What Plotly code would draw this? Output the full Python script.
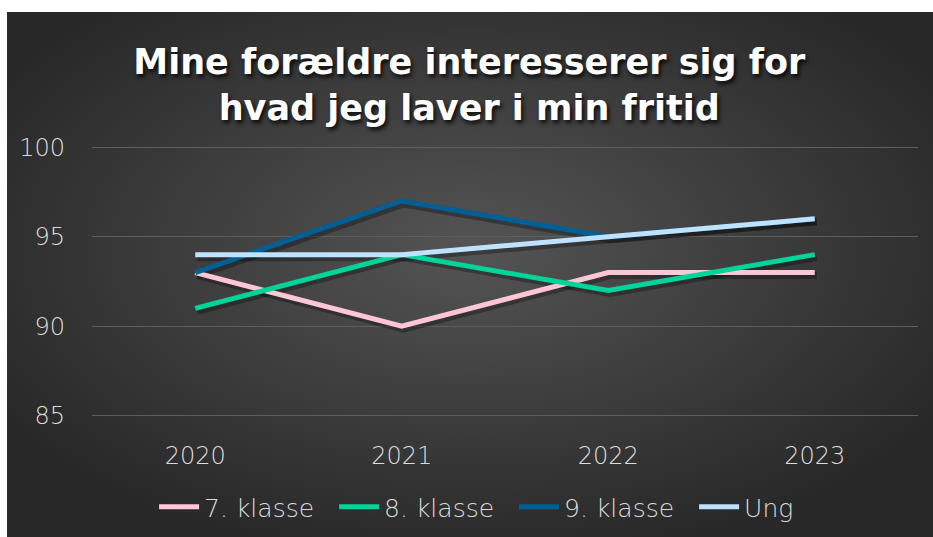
import base64
import plotly.graph_objects as go

years = ["2020", "2021", "2022", "2023"]
klasse7 = [93, 90, 93, 93]
klasse8 = [91, 94, 92, 94]
klasse9 = [93, 97, 95, 96]
ung = [94, 94, 95, 96]

series_names = ["7. klasse", "8. klasse", "9. klasse", "Ung"]
series_values = [klasse7, klasse8, klasse9, ung]
series_colors = ["#FFC7D6", "#00D49A", "#005F94", "#BEE2FF"]

y_ticks = [85, 90, 95, 100]
title_text = "Mine forældre interesserer sig for<br>hvad jeg laver i min fritid"

W, H = 933, 537
ML, MR, MT, MB = 92, 15, 146, 120
YR = [84.93, 100.07]
XR = [-0.5, 3.5]

svg = f'''<svg xmlns="http://www.w3.org/2000/svg" width="{W}" height="{H}" viewBox="0 0 {W} {H}" preserveAspectRatio="none">
<defs><radialGradient id="g" cx="0.5" cy="0.45" r="0.6" gradientUnits="objectBoundingBox">
<stop offset="0" stop-color="#545454"/><stop offset="1" stop-color="#282828"/></radialGradient></defs>
<rect x="0" y="0" width="{W}" height="{H}" fill="#ffffff"/>
<rect x="7" y="12" width="{W-7}" height="{H-12}" fill="url(#g)"/>
</svg>'''
uri = "data:image/svg+xml;base64," + base64.b64encode(svg.encode()).decode()

pw = W - ML - MR
ph = H - MT - MB
# shadow offset (pixels) converted to axis units
sdx = 2 * (XR[1] - XR[0]) / pw
sdy = 3 * (YR[1] - YR[0]) / ph

fig = go.Figure()
# soft shadows on the (hidden, slightly shifted) base axes
for name, vals in zip(series_names, series_values):
    fig.add_trace(go.Scatter(
        x=years, y=vals, mode="lines", showlegend=False, hoverinfo="skip",
        line=dict(color="rgba(0,0,0,0.30)", width=7),
        xaxis="x", yaxis="y",
    ))
# visible series on the overlay axes that carry ticks and grid
for name, vals, col in zip(series_names, series_values, series_colors):
    fig.add_trace(go.Scatter(
        x=years, y=vals, name=name, mode="lines",
        line=dict(color=col, width=5),
        xaxis="x2", yaxis="y2",
    ))

tick_font = dict(family="DejaVu Sans", size=24, color="#dcdcdc", weight=200)

fig.update_layout(
    width=W, height=H,
    margin=dict(l=ML, r=MR, t=MT, b=MB, pad=0, autoexpand=False),
    paper_bgcolor="#ffffff",
    plot_bgcolor="rgba(0,0,0,0)",
    images=[dict(source=uri, xref="paper", yref="paper",
                 x=-ML / pw, y=1 + MT / ph, sizex=W / pw, sizey=H / ph,
                 xanchor="left", yanchor="top", sizing="stretch", layer="below")],
    title=dict(text=title_text, x=0.503, xanchor="center", y=0.862, yanchor="middle",
               font=dict(family="DejaVu Sans, sans-serif", size=35, color="#ffffff",
                         weight="bold", shadow="2px 3px 4px rgba(0,0,0,0.85)")),
    font=tick_font,
    showlegend=True,
    legend=dict(orientation="h", x=0.551, xanchor="center", xref="container",
                y=1 - 507 / H, yanchor="middle", yref="container",
                font=dict(family="DejaVu Sans", size=25, color="#dcdcdc", weight=200),
                itemwidth=40, entrywidth=125, entrywidthmode="pixels",
                bgcolor="rgba(0,0,0,0)", traceorder="normal"),
    xaxis=dict(range=[XR[0] - sdx, XR[1] - sdx], visible=False),
    yaxis=dict(range=[YR[0] + sdy, YR[1] + sdy], visible=False),
    xaxis2=dict(overlaying="x", range=XR, showgrid=False, zeroline=False, showline=False,
                ticks="", tickfont=tick_font, ticklabelstandoff=22, side="bottom"),
    yaxis2=dict(overlaying="y", range=YR, tickvals=y_ticks, showgrid=True,
                gridcolor="#5e5e5e", gridwidth=1, zeroline=False, showline=False,
                ticks="", tickfont=tick_font, ticklabelstandoff=26, side="left"),
)

fig.write_html("out.html", config={"displayModeBar": False})
with open("out.html", "r", encoding="utf-8") as f:
    html = f.read()
html = html.replace("<body>", '<body style="margin:0;padding:0;overflow:hidden">', 1)
with open("out.html", "w", encoding="utf-8") as f:
    f.write(html)
